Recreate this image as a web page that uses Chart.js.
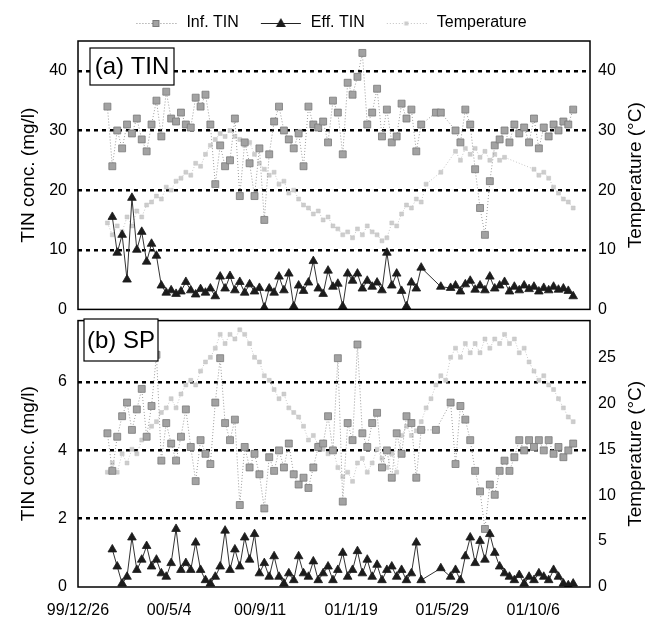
<!DOCTYPE html>
<html>
<head>
<meta charset="utf-8">
<title>TIN / SP</title>
<script src="https://cdn.jsdelivr.net/npm/chart.js"></script>
<style>
  html, body { margin: 0; padding: 0; background: #fff; overflow: hidden; }
  #wrap { position: relative; width: 649px; height: 619px; }
  #wrap canvas { position: absolute; left: 0; }
  #chartTop { top: 0; }
  #chartBottom { top: 300px; }
</style>
</head>
<body>
<div id="wrap">
  <canvas id="chartBottom" width="649" height="319"></canvas>
  <canvas id="chartTop" width="649" height="330"></canvas>
</div>
<script>
// ---------------- DATA ----------------
// x = days since 99/12/26
const days = [42, 49, 56, 63, 70, 77, 84, 91, 98, 105, 112, 119, 126, 133, 140, 147, 154, 161, 168, 175,
  182, 189, 196, 203, 210, 217, 224, 231, 238, 245, 252, 259, 266, 273, 280, 287, 294, 301, 308, 315,
  322, 329, 336, 343, 350, 357, 364, 371, 378, 385, 392, 399, 406, 413, 420, 427, 434, 441, 448, 455,
  462, 469, 476, 483, 490, 497, 504, 511, 518, 525, 532, 539, 546, 553, 560, 567, 574, 581, 588, 595,
  602, 609, 616, 623, 630, 637, 644, 651, 658, 665, 672, 679, 686, 693, 700, 707];
const tickDays = [0, 130, 260, 390, 520, 650];
const seriesNames = ["Inf. TIN", "Eff. TIN", "Temperature"];

// (a) TIN
const infTinA = [34, 24, 30, 27, 31, 29.5, 32, 28.5, 26.5, 31,
  35, 29, 36.5, 32, 31.5, 33, 31, 30.5, 35.5, 34,
  36, 31, 21, 27.5, 24, 25, 32, 19, 28, 24.5,
  19, 27, 15, 26, 31.5, 34, 30, 28.5, 27, 29.5,
  24, 34, 31, 30.5, 31.5, 28, 35, 33, 26, 38,
  36, 39, 43, 31, 33, 37, 29, 33.5, 28, 29,
  34.5, 32, 33.5, 26.5, 31, null, null, 33, 33, null,
  null, 30, 28, 33.5, 31, 23.5, 17, 12.5, 21.5, 27.5,
  28.5, 30, 28, 31, 29.5, 30.5, 28, 32, 27, 30.5,
  29, 31, 30, 31.5, 31, 33.5];
const effTinA = [null, 15.5, 9.5, 12.5, 5, 18.7, 10, 13, 8, 11,
  9, 4, 2.8, 3.2, 2.6, 3, 4.6, 3.2, 2.5, 3.4,
  2.8, 3.5, 2.2, 5.5, 3.5, 5.6, 3.2, 4.6, 2.8, 4.2,
  3, 3.6, 0.3, 3.5, 2.8, 5.5, 3.2, 6, 0.5, 4,
  3.1, 4.5, 8.1, 3.5, 2.6, 6.5, 3.8, 4.3, 0.5, 6,
  4.8, 6, 3.5, 4.8, 3.8, 4.5, 3.2, 9.5, 4, 6,
  3.1, 0.5, 4.5, 3.5, 7, null, null, null, 3.8, null,
  3.6, 4, 3, 4.2, 4.8, 3.3, 4, 3.2, 5.5, 3.5,
  4, 4.6, 3, 3.8, 3.2, 4, 3.4, 3.8, 3, 3.6,
  3.2, 3.8, 3.3, 3.5, 3.1, 2.2];
const tempA = [14.5, 12.5, 14, 13, 15.5, 14, 16.5, 15.5, 17.5, 18,
  19, 18.5, 20.5, 20, 21.5, 22, 23, 22.5, 24.5, 24,
  26, 27.5, 28.5, 29.5, 29, 30, 29, 28.5, 27.5, 28,
  26, 24.5, 23.5, 22.5, 23, 21, 21.5, 19.5, 20, 18.5,
  17.5, 17, 16, 16.5, 15, 15.5, 14, 13.5, 12.5, 13,
  12, 13.5, 12.5, 14, 13, 12.5, 11.5, 12, 14.5, 14,
  16, 17.5, 17, 18.5, 18, 21, null, null, 23, null,
  null, 26.5, 25, 27, 26, 27, 25.5, 26.5, 25, 26,
  25, 25.5, null, null, null, null, null, 23.5, 22.5, 23,
  22, 20.5, 19.5, 18.5, 18, 17];

// (b) SP
const infTinB = [4.5, 3.4, 4.4, 5.0, 5.4, 4.6, 5.2, 5.8, 4.4, 5.3,
  6.8, 3.7, 4.8, 4.2, 3.7, 4.4, 5.2, 4.1, 3.1, 4.3,
  3.9, 3.6, 5.4, 6.7, 4.8, 4.3, 4.9, 2.4, 4.1, 3.5,
  3.9, 3.3, 2.3, 3.8, 3.4, 4.0, 3.5, 4.2, 3.3, 3.0,
  3.2, 2.9, 3.5, 4.1, 4.2, 5.0, 4.0, 6.7, 2.5, 4.8,
  4.3, 7.1, 4.5, 4.1, 4.8, 5.1, 3.5, 4.0, 3.2, 4.5,
  3.9, 5.0, 4.8, 3.2, 4.6, null, null, 4.6, null, null,
  5.4, 3.6, 5.3, 4.9, 4.3, 3.4, 2.8, 1.7, 3.0, 2.7,
  3.4, 3.7, 3.4, 3.8, 4.3, 4.0, 4.3, 4.1, 4.3, 4.0,
  4.3, 3.9, 4.1, 3.8, 4.0, 4.2];
const effTinB = [null, 1.1, 0.6, 0.1, 0.3, 1.45, 0.5, 0.8, 1.2, 0.6,
  0.8, 0.4, 0.3, 0.7, 1.7, 0.5, 0.7, 0.5, 1.3, 0.5,
  0.2, 0.1, 0.3, 0.6, 1.65, 0.5, 1.1, 0.6, 1.45, 0.8,
  1.55, 0.4, 0.7, 0.3, 0.9, 0.3, 0.1, 0.4, 0.2, 0.9,
  0.4, 0.3, 0.75, 0.2, 0.4, 0.6, 0.2, 0.5, 1.0, 0.3,
  0.5, 1.05, 0.4, 0.8, 0.3, 0.65, 0.2, 0.5, 0.6, 0.3,
  0.5, 0.2, 0.4, 1.3, 0.2, null, null, null, 0.55, null,
  0.3, 0.5, 0.2, 0.9, 1.45, 0.7, 1.35, 0.8, 1.55, 1.0,
  0.6, 0.4, 0.3, 0.2, 0.35, 0.1, 0.3, 0.2, 0.4, 0.3,
  0.2, 0.5, 0.3, 0.1, 0.05, 0.1];
const tempB = [12.5, 13.5, 12.5, 14.5, 13.5, 15, 14.5, 16, 16.5, 17.5,
  18, 19, 19.5, 20.5, 19.5, 21, 22, 22.5, 22, 23.5,
  24.5, 25, 26, 27.5, 26.5, 27.5, 27, 28, 27.5, 26.5,
  25, 24.5, 23, 22.5, 21.5, 20.5, 21, 19.5, 19, 18.5,
  17.5, 16, 16.5, 15.5, 15, 14.5, 15, 13, 12, 12.5,
  11.5, 13.5, 14, 12.5, 13.5, 15, 14, 13, 14.5, 12.5,
  16.5, 17.5, 16.5, 17, 18, 19.5, 20.5, 22, 23, 22.5,
  25, 26, 25, 26.5, 25.5, 26.5, 25.5, 27, 26, 27,
  26.5, 27.5, 26.5, 27, 25.5, 26, 24.5, 23.5, 22.5, 23,
  22, 21.5, 20.5, 19.5, 18.5, 18];

// ---------------- STYLE ----------------
const FONT = "'Liberation Sans', Arial, sans-serif";
Chart.defaults.font.family = FONT;
Chart.defaults.color = "#000";

const INF_FILL = "#a2a2a2", INF_EDGE = "#7a7a7a";
const EFF_FILL = "#1c1c1c";
const TEMP_FILL = "#cdcdcd", TEMP_EDGE = "#c2c2c2";

const startDate = Date.UTC(1999, 11, 26);
function dayLabel(v) {
  const d = new Date(startDate + v * 864e5);
  return String(d.getUTCFullYear() % 100).padStart(2, "0") + "/" + (d.getUTCMonth() + 1) + "/" + d.getUTCDate();
}

function pts(vals) {
  return days.map((d, i) => ({ x: d, y: vals[i] }));
}

function makeDatasets(inf, eff, temp) {
  return [
    {
      label: seriesNames[0], data: pts(inf), yAxisID: "y", order: 2, spanGaps: true,
      borderColor: "#9a9a9a", borderWidth: 1, borderDash: [1, 2],
      pointStyle: "rect", pointRadius: 4.9, pointBackgroundColor: INF_FILL,
      pointBorderColor: INF_EDGE, pointBorderWidth: 0.8
    },
    {
      label: seriesNames[1], data: pts(eff), yAxisID: "y", order: 1, spanGaps: true,
      borderColor: "#333", borderWidth: 1,
      pointStyle: "triangle", pointRadius: 5, pointBackgroundColor: EFF_FILL,
      pointBorderColor: EFF_FILL, pointBorderWidth: 0.8
    },
    {
      label: seriesNames[2], data: pts(temp), yAxisID: "y1", order: 3, spanGaps: true,
      borderColor: "#c6c6c6", borderWidth: 1, borderDash: [1, 2],
      pointStyle: "rect", pointRadius: 2.8, pointBackgroundColor: TEMP_FILL,
      pointBorderColor: TEMP_EDGE, pointBorderWidth: 0.5
    }
  ];
}

// little line+marker pictures for the legend (Excel style)
function makeIcon(kind) {
  const c = document.createElement("canvas");
  c.width = 44; c.height = 14;
  const g = c.getContext("2d");
  g.beginPath();
  g.moveTo(2, 7.5); g.lineTo(42, 7.5);
  g.lineWidth = 1;
  if (kind === 0) {
    g.setLineDash([1, 2]); g.strokeStyle = "#8c8c8c"; g.stroke();
    g.setLineDash([]);
    g.fillStyle = INF_FILL; g.fillRect(18, 4, 7, 7);
    g.strokeStyle = INF_EDGE; g.strokeRect(18.5, 4.5, 6, 6);
  } else if (kind === 1) {
    g.strokeStyle = "#222"; g.stroke();
    g.beginPath(); g.moveTo(22, 2); g.lineTo(27, 11); g.lineTo(17, 11); g.closePath();
    g.fillStyle = EFF_FILL; g.fill();
  } else {
    g.setLineDash([1, 2]); g.strokeStyle = "#c2c2c2"; g.stroke();
    g.setLineDash([]);
    g.fillStyle = TEMP_FILL; g.fillRect(19.5, 5.5, 4, 4);
  }
  return c;
}
const legendIcons = [0, 1, 2].map(makeIcon);

const gridColor = c => (c.tick && c.tick.value > 0) ? "#000" : "rgba(0,0,0,0)";

// frame, panel tag and right-hand axis title
const decor = {
  id: "decor",
  afterDraw(chart, args, o) {
    const { ctx, chartArea: a } = chart;
    ctx.save();
    ctx.strokeStyle = "#000";
    ctx.lineWidth = 1.5;
    ctx.strokeRect(a.left, a.top, a.right - a.left, a.bottom - a.top);

    const [bx, by, bw, bh] = o.box;
    ctx.fillStyle = "#fff";
    ctx.fillRect(bx, by, bw, bh);
    ctx.lineWidth = 1.2;
    ctx.strokeRect(bx, by, bw, bh);
    ctx.fillStyle = "#000";
    ctx.font = "24px " + FONT;
    ctx.textAlign = "center";
    ctx.textBaseline = "middle";
    ctx.fillText(o.label, bx + bw / 2, by + bh / 2 + 1);

    ctx.translate(636, (a.top + a.bottom) / 2);
    ctx.rotate(-Math.PI / 2);
    ctx.font = "19px " + FONT;
    ctx.fillText("Temperature (\u00B0C)", 0, 0);
    ctx.restore();
  }
};

// nudge the legend row a bit to the right, as in the original
const legendShift = {
  id: "legendShift",
  afterLayout(chart) {
    chart.legend.left += 6;
    chart.legend.right += 6;
  }
};

function yScales(yMax, yStep, y1Max, y1Step) {
  return {
    y: {
      position: "left", min: 0, max: yMax,
      afterFit: s => { s.width = 78; },
      ticks: { stepSize: yStep, includeBounds: false, padding: 11, font: { size: 16 } },
      grid: { color: gridColor, lineWidth: 2.5, drawTicks: false },
      border: { display: false, dash: [4, 4] },
      title: { display: true, text: "TIN conc. (mg/l)", font: { size: 19 }, padding: { top: 17, bottom: 0 } }
    },
    y1: {
      position: "right", min: 0, max: y1Max,
      afterFit: s => { s.width = 59; },
      ticks: { stepSize: y1Step, includeBounds: false, padding: 8, font: { size: 16 } },
      grid: { drawOnChartArea: false, drawTicks: false },
      border: { display: false }
    }
  };
}

// ---------------- (a) TIN ----------------
new Chart(document.getElementById("chartTop"), {
  type: "line",
  data: { datasets: makeDatasets(infTinA, effTinA, tempA) },
  options: {
    responsive: false, animation: false, devicePixelRatio: 1, events: [],
    layout: { padding: { top: -5, bottom: 14, left: 0, right: 0 } },
    plugins: {
      tooltip: { enabled: false },
      decor: { label: "(a) TIN", box: [90, 48, 84, 37] },
      legend: {
        position: "top", maxHeight: 49,
        labels: {
          usePointStyle: true, pointStyleWidth: 44, padding: 20,
          font: { size: 16 }, color: "#000",
          generateLabels: () => seriesNames.map((name, i) => ({
            text: name, pointStyle: legendIcons[i], fillStyle: "rgba(0,0,0,0)",
            strokeStyle: "rgba(0,0,0,0)", lineWidth: 0, hidden: false, datasetIndex: i, fontColor: "#000"
          }))
        }
      }
    },
    scales: Object.assign({
      x: { type: "linear", min: 0, max: 731, display: false }
    }, yScales(45, 10, 45, 10))
  },
  plugins: [decor, legendShift]
});

// ---------------- (b) SP ----------------
new Chart(document.getElementById("chartBottom"), {
  type: "line",
  data: { datasets: makeDatasets(infTinB, effTinB, tempB) },
  options: {
    responsive: false, animation: false, devicePixelRatio: 1, events: [],
    layout: { padding: { top: 16, bottom: 0, left: 0, right: 0 } },
    plugins: {
      tooltip: { enabled: false },
      legend: { display: false },
      decor: { label: "(b) SP", box: [84, 19, 74, 42] }
    },
    scales: Object.assign({
      x: {
        type: "linear", min: 0, max: 731,
        afterBuildTicks: s => { s.ticks = tickDays.map(v => ({ value: v })); },
        afterFit: s => { s.height = 32; },
        grid: { display: false },
        border: { display: false },
        ticks: { autoSkip: false, maxRotation: 0, padding: 6, font: { size: 16 }, callback: v => dayLabel(v) }
      }
    }, yScales(7.8, 2, 29, 5))
  },
  plugins: [decor]
});
</script>
</body>
</html>
